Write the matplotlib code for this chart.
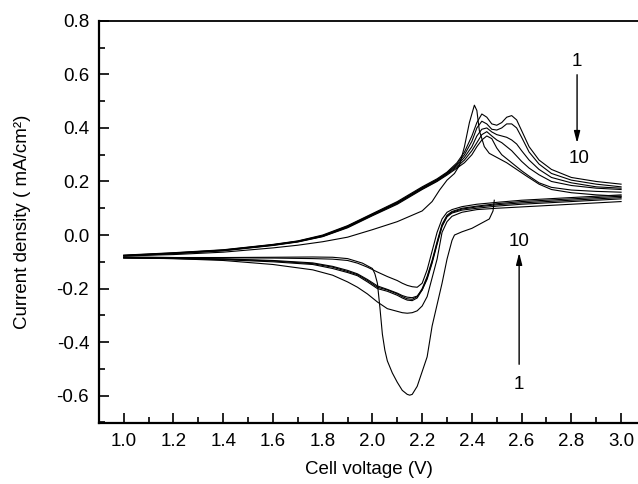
import matplotlib
matplotlib.use("Agg")
import matplotlib.pyplot as plt
from matplotlib.ticker import MultipleLocator, FormatStrFormatter

plt.rcParams["font.family"] = ["Liberation Sans", "DejaVu Sans"]

# common voltage grids (V) for cycles 2..10
V_ANODIC = [1.00, 1.20, 1.40, 1.60, 1.70, 1.80, 1.90, 2.00, 2.10, 2.20, 2.26,
            2.30, 2.34, 2.37, 2.40, 2.42, 2.44, 2.46, 2.48, 2.50, 2.52, 2.54,
            2.56, 2.58, 2.60, 2.63, 2.67, 2.72, 2.80, 2.90, 3.00]
V_CATHODIC = [3.00, 2.90, 2.80, 2.70, 2.60, 2.50, 2.42, 2.36, 2.32, 2.30, 2.28,
              2.26, 2.24, 2.22, 2.20, 2.18, 2.16, 2.14, 2.12, 2.10, 2.06, 2.02,
              1.98, 1.94, 1.90, 1.84, 1.76, 1.60, 1.40, 1.20, 1.00]

# cycle 1 starts at open circuit voltage, has its own grids
C1_V_CATH = [2.49, 2.485, 2.47, 2.44, 2.40, 2.36, 2.33, 2.32, 2.30, 2.28, 2.26,
             2.24, 2.22, 2.20, 2.18, 2.16, 2.15, 2.14, 2.12, 2.10, 2.08, 2.06,
             2.05, 2.04, 2.03, 2.02, 2.01, 2.00, 1.96, 1.90, 1.84, 1.76, 1.60,
             1.40, 1.20, 1.00]
C1_I_CATH = [0.13, 0.09, 0.06, 0.045, 0.025, 0.012, 0.0, -0.02, -0.09, -0.18, -0.26,
             -0.34, -0.455, -0.51, -0.565, -0.595, -0.598, -0.595, -0.58, -0.55, -0.515, -0.47,
             -0.43, -0.37, -0.27, -0.18, -0.145, -0.125, -0.105, -0.088, -0.083, -0.082, -0.083,
             -0.084, -0.084, -0.082]
C1_V_AN = [1.00, 1.20, 1.40, 1.60, 1.70, 1.80, 1.90, 2.00, 2.10, 2.20, 2.24, 2.27,
           2.30, 2.33, 2.35, 2.37, 2.39, 2.41, 2.42, 2.43, 2.45, 2.47, 2.50, 2.54,
           2.58, 2.62, 2.67, 2.72, 2.80, 2.90, 3.00]
C1_I_AN = [-0.078, -0.073, -0.064, -0.048, -0.038, -0.025, -0.008, 0.02, 0.05, 0.09, 0.125, 0.168,
           0.205, 0.23, 0.26, 0.33, 0.42, 0.485, 0.465, 0.39, 0.33, 0.305, 0.29, 0.27,
           0.245, 0.22, 0.19, 0.17, 0.158, 0.15, 0.145]

C2_I_AN = [-0.075, -0.066, -0.055, -0.035, -0.022, 0.0, 0.035, 0.08, 0.125, 0.18, 0.21,
           0.235, 0.27, 0.31, 0.37, 0.42, 0.452, 0.44, 0.415, 0.41, 0.42, 0.44,
           0.446, 0.43, 0.39, 0.33, 0.28, 0.245, 0.215, 0.2, 0.19]
C4_I_AN = [-0.076, -0.067, -0.056, -0.036, -0.023, -0.002, 0.033, 0.078, 0.122, 0.177, 0.207,
           0.232, 0.265, 0.30, 0.35, 0.40, 0.425, 0.415, 0.395, 0.392, 0.40, 0.415,
           0.415, 0.40, 0.365, 0.31, 0.265, 0.23, 0.205, 0.19, 0.18]
C6_I_AN = [-0.077, -0.068, -0.057, -0.037, -0.024, -0.004, 0.031, 0.076, 0.12, 0.175, 0.205,
           0.23, 0.26, 0.29, 0.33, 0.37, 0.395, 0.40, 0.385, 0.375, 0.37, 0.365,
           0.355, 0.34, 0.315, 0.28, 0.245, 0.215, 0.195, 0.18, 0.175]
C8_I_AN = [-0.077, -0.069, -0.058, -0.038, -0.025, -0.005, 0.029, 0.074, 0.118, 0.172, 0.202,
           0.227, 0.255, 0.28, 0.315, 0.345, 0.375, 0.386, 0.37, 0.355, 0.345, 0.33,
           0.315, 0.295, 0.275, 0.25, 0.225, 0.20, 0.185, 0.175, 0.17]
C10_I_AN = [-0.078, -0.07, -0.059, -0.039, -0.026, -0.006, 0.027, 0.072, 0.115, 0.17, 0.2,
            0.224, 0.25, 0.27, 0.30, 0.33, 0.355, 0.37, 0.36, 0.325, 0.30, 0.285,
            0.27, 0.255, 0.24, 0.22, 0.195, 0.178, 0.168, 0.163, 0.16]

C2_I_CATH = [0.125, 0.12, 0.115, 0.11, 0.105, 0.10, 0.095, 0.085, 0.07, 0.05, 0.01,
             -0.09, -0.16, -0.23, -0.265, -0.283, -0.29, -0.292, -0.29, -0.285, -0.275, -0.25,
             -0.22, -0.195, -0.175, -0.15, -0.13, -0.11, -0.095, -0.088, -0.085]
C4_I_CATH = [0.14, 0.135, 0.13, 0.125, 0.12, 0.113, 0.105, 0.097, 0.085, 0.07, 0.035,
             -0.03, -0.10, -0.16, -0.205, -0.235, -0.245, -0.243, -0.235, -0.225, -0.21, -0.20,
             -0.175, -0.152, -0.14, -0.125, -0.11, -0.10, -0.092, -0.088, -0.086]
C6_I_CATH = [0.145, 0.14, 0.135, 0.13, 0.125, 0.117, 0.108, 0.10, 0.088, 0.074, 0.04,
             -0.025, -0.095, -0.155, -0.2, -0.23, -0.24, -0.238, -0.23, -0.22, -0.205, -0.195,
             -0.17, -0.148, -0.136, -0.12, -0.107, -0.097, -0.09, -0.087, -0.085]
C8_I_CATH = [0.135, 0.13, 0.125, 0.12, 0.115, 0.108, 0.10, 0.093, 0.082, 0.068, 0.032,
             -0.035, -0.105, -0.165, -0.205, -0.228, -0.234, -0.232, -0.226, -0.217, -0.203, -0.19,
             -0.166, -0.145, -0.132, -0.117, -0.104, -0.095, -0.089, -0.086, -0.084]
C10_I_CATH = [0.15, 0.145, 0.14, 0.135, 0.13, 0.122, 0.115, 0.106, 0.095, 0.085, 0.06,
              0.01, -0.06, -0.13, -0.18, -0.195, -0.193, -0.188, -0.18, -0.17, -0.155, -0.138,
              -0.12, -0.105, -0.095, -0.09, -0.088, -0.086, -0.085, -0.084, -0.083]

CYCLES = {
    2: (C2_I_CATH, C2_I_AN),
    4: (C4_I_CATH, C4_I_AN),
    6: (C6_I_CATH, C6_I_AN),
    8: (C8_I_CATH, C8_I_AN),
    10: (C10_I_CATH, C10_I_AN),
}

FS = 13.5

fig = plt.figure(figsize=(6.38, 4.84), dpi=100)
ax = fig.add_axes([0.155, 0.126, 0.845, 0.831])

line_kw = dict(color="black", linewidth=0.8)
ax.plot(C1_V_CATH, C1_I_CATH, **line_kw)
ax.plot(C1_V_AN, C1_I_AN, **line_kw)
for cyc, (i_cath, i_an) in CYCLES.items():
    ax.plot(V_CATHODIC, i_cath, **line_kw)
    ax.plot(V_ANODIC, i_an, **line_kw)

ax.set_xlim(0.9, 3.068)
ax.set_ylim(-0.702, 0.8)
ax.xaxis.set_minor_locator(MultipleLocator(0.1))
ax.yaxis.set_minor_locator(MultipleLocator(0.1))
ax.set_xticks([t / 10 for t in range(10, 31, 2)])
ax.set_yticks([t / 10 for t in range(-6, 9, 2)])
ax.xaxis.set_major_formatter(FormatStrFormatter("%.1f"))
ax.yaxis.set_major_formatter(FormatStrFormatter("%.1f"))

ax.tick_params(which="major", direction="in", length=7, width=1.2,
               labelsize=FS, pad=7)
ax.tick_params(which="minor", direction="in", length=4, width=1.2)
ax.tick_params(top=False, right=False, which="both")

for side in ("left", "bottom"):
    ax.spines[side].set_linewidth(1.6)
ax.spines["top"].set_linewidth(1.3)
ax.spines["right"].set_visible(False)

ax.set_xlabel("Cell voltage (V)", fontsize=FS)
ax.set_ylabel("Current density ( mA/cm²)", fontsize=FS)
ax.xaxis.set_label_coords(0.5, -0.095)
ax.yaxis.set_label_coords(-0.126, 0.5)

# cycle direction annotations
arrow_kw = dict(arrowstyle="-|>,head_length=0.7,head_width=0.18", color="black", lw=1.0)
ax.annotate("", xy=(2.823, 0.333), xytext=(2.823, 0.609), arrowprops=arrow_kw)
ax.text(2.823, 0.647, "1", ha="center", va="center", fontsize=FS)
ax.text(2.83, 0.284, "10", ha="center", va="center", fontsize=FS)

ax.annotate("", xy=(2.59, -0.056), xytext=(2.59, -0.493), arrowprops=arrow_kw)
ax.text(2.59, -0.026, "10", ha="center", va="center", fontsize=FS)
ax.text(2.59, -0.56, "1", ha="center", va="center", fontsize=FS)

fig.savefig("out.png", dpi=100)
